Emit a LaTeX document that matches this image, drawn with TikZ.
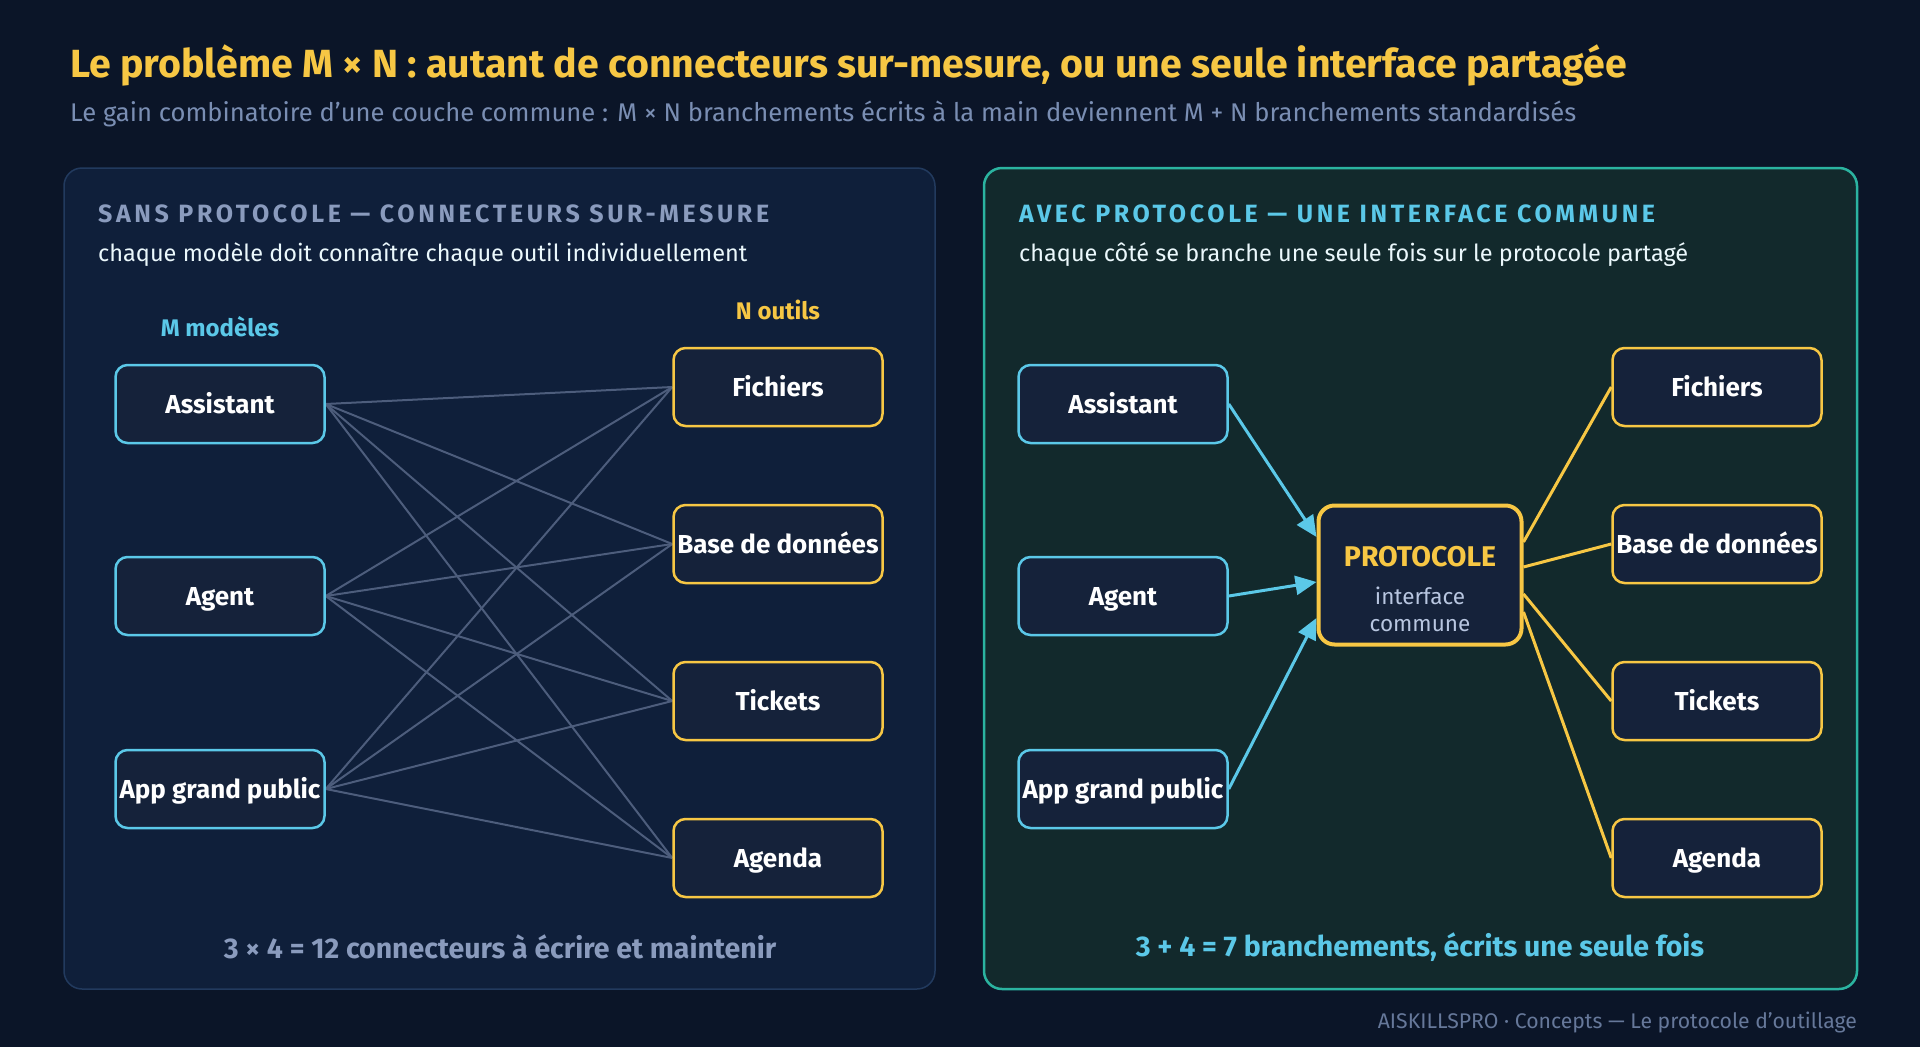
\documentclass[tikz,border=0pt]{standalone}
\usepackage{fontspec}
\setmainfont{Fira Sans}
\usetikzlibrary{arrows.meta}
\pgfdeclarelayer{panels}
\pgfdeclarelayer{links}
\pgfsetlayers{panels,links,main}
\definecolor{bg}{HTML}{0B1528}
\definecolor{panelLfill}{HTML}{0F1F3A}
\definecolor{panelLdraw}{HTML}{223A5E}
\definecolor{panelRfill}{HTML}{12292C}
\definecolor{panelRdraw}{HTML}{2BB3A0}
\definecolor{nodefill}{HTML}{15223A}
\definecolor{cyanc}{HTML}{5BC8E8}
\definecolor{yellowc}{HTML}{F7C744}
\definecolor{greyhead}{HTML}{8A9BBD}
\definecolor{greyline}{HTML}{4D5D7C}
\definecolor{subgrey}{HTML}{7A8EB3}
\definecolor{credit}{HTML}{66789A}
\definecolor{softtext}{HTML}{B8C6E0}
\tikzset{
  boxbase/.style={rounded corners=12pt, line width=2.5pt, fill=nodefill, text=white,
    minimum width=209pt, minimum height=78pt, inner xsep=0pt,
    text height=19pt, text depth=1pt,
    font=\bfseries\fontsize{26}{30}\selectfont},
  modelbox/.style={boxbase, draw=cyanc},
  toolbox/.style={boxbase, draw=yellowc},
  mesh/.style={draw=greyline, line width=2pt},
  cyanarrow/.style={draw=cyanc, line width=3pt, -{Triangle[length=21pt,width=19pt]}},
  yline/.style={draw=yellowc, line width=3pt},
  paneltitle/.style={anchor=base west, font=\bfseries\fontsize{25}{30}\selectfont\addfontfeature{LetterSpace=14.5}},
  panelsub/.style={anchor=base west, text=white!88!cyanc, font=\fontsize{23.5}{28}\selectfont},
  footnum/.style={font=\bfseries\fontsize{28.5}{34}\selectfont},
  collabel/.style={font=\bfseries\fontsize{24}{28}\selectfont},
}
\begin{document}
\begin{tikzpicture}[x=1pt,y=-1pt]
\begin{pgfonlayer}{panels}
\fill[bg] (0,0) rectangle (1920,1047);
\draw[fill=panelLfill, draw=panelLdraw, line width=1.5pt, rounded corners=18pt] (64,168) rectangle (935,989);
\draw[fill=panelRfill, draw=panelRdraw, line width=2.5pt, rounded corners=18pt] (984,168) rectangle (1857,989);
\end{pgfonlayer}
\useasboundingbox (0,0) rectangle (1920,1047);

% title
\node[anchor=base west, text=yellowc, font=\bfseries\fontsize{39.3}{46}\selectfont, inner sep=0] (title) at (70,77)
  {Le problème M × N : autant de connecteurs sur-mesure, ou une seule interface partagée};
\node[anchor=base west, text=subgrey, font=\fontsize{25.6}{30}\selectfont, inner sep=0] (subtitle) at (70,121)
  {Le gain combinatoire d'une couche commune : M × N branchements écrits à la main deviennent M + N branchements standardisés};

% left panel texts
\node[paneltitle, text=greyhead, inner sep=0] (lt) at (98,222) {SANS PROTOCOLE — CONNECTEURS SUR-MESURE};
\node[panelsub, inner sep=0] (ls) at (98,261) {chaque modèle doit connaître chaque outil individuellement};
\node[collabel, text=cyanc] (mm) at (220,327) {M modèles};
\node[collabel, text=yellowc] (no) at (778,310) {N outils};

% left nodes
\node[modelbox] (a1) at (220,404) {Assistant};
\node[modelbox] (a2) at (220,596) {Agent};
\node[modelbox] (a3) at (220,789) {App grand public};
\node[toolbox] (t1) at (778,387) {Fichiers};
\node[toolbox] (t2) at (778,544) {Base de données};
\node[toolbox] (t3) at (778,701) {Tickets};
\node[toolbox] (t4) at (778,858) {Agenda};

\begin{pgfonlayer}{links}
\foreach \m in {a1,a2,a3}{
  \foreach \t in {t1,t2,t3,t4}{
    \draw[mesh] (\m.east) -- (\t.west);
  }
}
\end{pgfonlayer}

\node[footnum, text=greyhead] (lf) at (500,947) {3 × 4 = 12 connecteurs à écrire et maintenir};

% right panel texts
\node[paneltitle, text=cyanc, inner sep=0] (rt) at (1019,222) {AVEC PROTOCOLE — UNE INTERFACE COMMUNE};
\node[panelsub, inner sep=0] (rs) at (1019,261) {chaque côté se branche une seule fois sur le protocole partagé};

\node[modelbox] (b1) at (1123,404) {Assistant};
\node[modelbox] (b2) at (1123,596) {Agent};
\node[modelbox] (b3) at (1123,789) {App grand public};
\node[toolbox] (u1) at (1717,387) {Fichiers};
\node[toolbox] (u2) at (1717,544) {Base de données};
\node[toolbox] (u3) at (1717,701) {Tickets};
\node[toolbox] (u4) at (1717,858) {Agenda};

\node[draw=yellowc, fill=nodefill, line width=4pt, rounded corners=16pt,
      minimum width=203pt, minimum height=139pt] (proto) at (1420,575) {};
\node[text=yellowc, font=\bfseries\fontsize{28.5}{34}\selectfont] (pt) at (1420,557) {PROTOCOLE};
\node[text=softtext, font=\fontsize{22.5}{27}\selectfont, align=center] (pi) at (1420,609) {interface\\commune};

\begin{pgfonlayer}{links}
\draw[cyanarrow] (b1.east) -- ([yshift=38pt]proto.west);
\draw[cyanarrow] (b2.east) -- ([yshift=-7pt]proto.west);
\draw[cyanarrow] (b3.east) -- ([yshift=-43pt]proto.west);
\draw[yline] ([yshift=33pt]proto.east) -- (u1.west);
\draw[yline] ([yshift=8pt]proto.east) -- (u2.west);
\draw[yline] ([yshift=-19pt]proto.east) -- (u3.west);
\draw[yline] ([yshift=-37pt]proto.east) -- (u4.west);
\end{pgfonlayer}

\node[footnum, text=cyanc] (rf) at (1420,947) {3 + 4 = 7 branchements, écrits une seule fois};

\node[anchor=base east, text=credit, font=\fontsize{21.2}{25}\selectfont, inner sep=0] (cr) at (1857,1028) {AISKILLSPRO · Concepts — Le protocole d'outillage};
\end{tikzpicture}
\end{document}
